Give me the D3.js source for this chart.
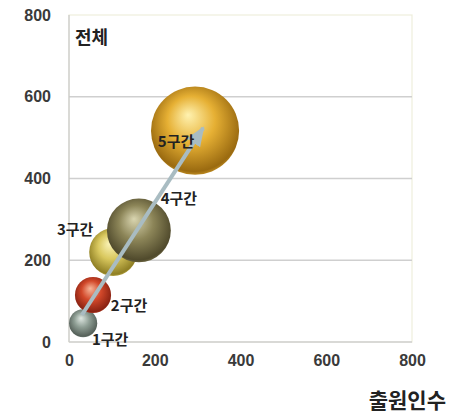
<!DOCTYPE html>
<html>
<head>
<meta charset="utf-8">
<script src="https://cdn.jsdelivr.net/npm/d3@7"></script>
<style>
  html, body { margin: 0; padding: 0; background: #fff; }
  svg { display: block; }
  .tick text { font-family: "Liberation Sans", Arial, sans-serif; font-weight: bold; font-size: 16px; fill: #3a3a3a; }
  .kr { font-family: "Noto Sans CJK KR", sans-serif; font-weight: bold; fill: #222; }
</style>
</head>
<body>
<svg id="chart" width="450" height="416"></svg>
<script>
// Bubble series: applicants (x), filings (y), bubble size
const segments = ["1구간", "2구간", "3구간", "4구간", "5구간"];
const applicants = [33, 56, 103, 163, 294];
const filings = [46, 115, 220, 273, 517];
const sizes = [20, 33, 58, 103, 196];
const baseColors = ["#8e9e94", "#d2482a", "#d9c85e", "#8c8558", "#e6b034"];
const lightColors = ["#dfe8e2", "#f7b79a", "#fbf4b8", "#d9d5b0", "#fff2b0"];
const darkColors = ["#56615a", "#8a2212", "#8f7f24", "#504a2c", "#9a6a10"];

// Trend arrow endpoints (data units)
const arrowX = [30, 313];
const arrowY = [66, 524];

const xTicks = [0, 200, 400, 600, 800];
const yTicks = [0, 200, 400, 600, 800];

const svg = d3.select("#chart");
const plotL = 69, plotR = 412, plotT = 15, plotB = 342;

const x = d3.scaleLinear().domain([0, 800]).range([plotL, plotR]);
const y = d3.scaleLinear().domain([0, 800]).range([plotB, plotT]);
const r = d3.scaleSqrt().domain([0, 200]).range([0, 44.5]);

// Plot frame
svg.append("rect")
  .attr("x", plotL).attr("y", plotT)
  .attr("width", plotR - plotL).attr("height", plotB - plotT)
  .attr("fill", "#fff").attr("stroke", "#eeeedc").attr("stroke-width", 1.2);

// Horizontal gridlines
svg.append("g")
  .selectAll("line")
  .data(yTicks.filter(d => d > 0 && d < 800))
  .join("line")
  .attr("x1", plotL).attr("x2", plotR)
  .attr("y1", d => y(d)).attr("y2", d => y(d))
  .attr("stroke", "#cfcfcf").attr("stroke-width", 1.5);

// Axis lines
svg.append("line").attr("x1", plotL).attr("x2", plotL).attr("y1", plotT).attr("y2", plotB)
  .attr("stroke", "#c8c8c8").attr("stroke-width", 1.2);
svg.append("line").attr("x1", plotL).attr("x2", plotR).attr("y1", plotB).attr("y2", plotB)
  .attr("stroke", "#cfcfcf").attr("stroke-width", 1.5);

// Axes (labels only)
const yAxis = svg.append("g")
  .attr("transform", `translate(${plotL},0)`)
  .call(d3.axisLeft(y).tickValues(yTicks).tickSize(0).tickPadding(18));
yAxis.select(".domain").remove();

const xAxis = svg.append("g")
  .attr("transform", `translate(0,${plotB})`)
  .call(d3.axisBottom(x).tickValues(xTicks).tickSize(0).tickPadding(13));
xAxis.select(".domain").remove();

// Sphere shading gradients
const defs = svg.append("defs");
segments.forEach((s, i) => {
  const g = defs.append("radialGradient")
    .attr("id", "sph" + i)
    .attr("cx", "0.5").attr("cy", "0.45").attr("r", "0.6")
    .attr("fx", "0.42").attr("fy", "0.32");
  g.append("stop").attr("offset", "0%").attr("stop-color", lightColors[i]);
  g.append("stop").attr("offset", "45%").attr("stop-color", baseColors[i]);
  g.append("stop").attr("offset", "88%").attr("stop-color", darkColors[i]);
  g.append("stop").attr("offset", "100%").attr("stop-color", baseColors[i]);
});

const data = segments.map((s, i) => ({
  name: s, x: applicants[i], y: filings[i], size: sizes[i], i
}));

svg.append("g")
  .selectAll("circle")
  .data(data)
  .join("circle")
  .attr("cx", d => x(d.x))
  .attr("cy", d => y(d.y))
  .attr("r", d => r(d.size))
  .attr("fill", d => `url(#sph${d.i})`);

// Trend arrow
defs.append("marker")
  .attr("id", "head")
  .attr("markerUnits", "userSpaceOnUse")
  .attr("viewBox", "0 0 20 16")
  .attr("refX", 18).attr("refY", 8)
  .attr("markerWidth", 20).attr("markerHeight", 16)
  .attr("orient", "auto")
  .append("path")
  .attr("d", "M0,0 L20,8 L0,16 Z")
  .attr("fill", "#a9bcc2");

svg.append("line")
  .attr("x1", x(arrowX[0])).attr("y1", y(arrowY[0]))
  .attr("x2", x(arrowX[1])).attr("y2", y(arrowY[1]))
  .attr("stroke", "#a9bcc2").attr("stroke-width", 4)
  .attr("marker-end", "url(#head)");

// Bubble labels
const labelDx = [27, 36, -38, 40, -19];
const labelDy = [22, 16, -17, -26, 16];
svg.append("g")
  .selectAll("text")
  .data(data)
  .join("text")
  .attr("class", "kr")
  .attr("font-size", 15)
  .attr("text-anchor", "middle")
  .attr("x", d => x(d.x) + labelDx[d.i])
  .attr("y", d => y(d.y) + labelDy[d.i])
  .text(d => d.name);

// Titles
svg.append("text").attr("class", "kr").attr("font-size", 18)
  .attr("x", 75).attr("y", 44).text("전체");
svg.append("text").attr("class", "kr").attr("font-size", 21)
  .attr("text-anchor", "end").attr("x", 446).attr("y", 408).text("출원인수");
</script>
</body>
</html>
